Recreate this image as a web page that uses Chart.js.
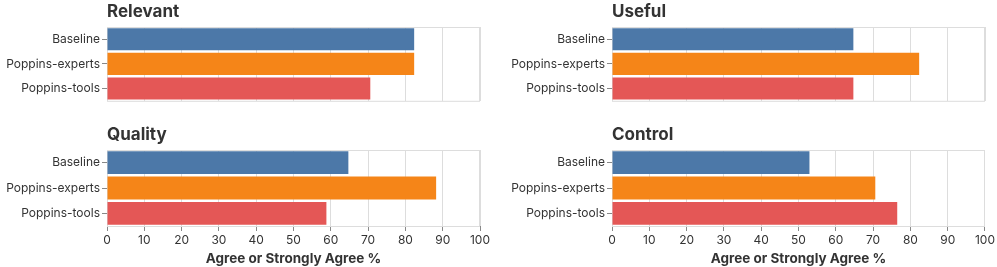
<!DOCTYPE html>
<html>
<head>
<meta charset="utf-8">
<script src="https://cdn.jsdelivr.net/npm/chart.js@4"></script>
<style>
  body { margin: 0; background: #fff; }
  .panel { position: absolute; }
</style>
</head>
<body>
<div class="panel" style="left:0;top:0;width:495px;height:110px"><canvas id="relevant"></canvas></div>
<div class="panel" style="left:505px;top:0;width:492px;height:110px"><canvas id="useful"></canvas></div>
<div class="panel" style="left:0;top:123px;width:495px;height:144px"><canvas id="quality"></canvas></div>
<div class="panel" style="left:505px;top:123px;width:492px;height:144px"><canvas id="control"></canvas></div>
<script>
// conditions (y categories)
const conditions = ['Baseline', 'Poppins-experts', 'Poppins-tools'];
const barColors = ['#4c78a8', '#f58518', '#e45756'];

// percent agree / strongly agree, per question
const relevantValues = [82.35, 82.35, 70.59];
const usefulValues = [64.71, 82.35, 64.71];
const qualityValues = [64.71, 88.24, 58.82];
const controlValues = [52.94, 70.59, 76.47];

const xTicks = [0, 10, 20, 30, 40, 50, 60, 70, 80, 90, 100];
const xTitle = 'Agree or Strongly Agree %';

const fontFamily = 'Inter, "Noto Sans", sans-serif';

// frame + panel title, drawn at the plot's left edge
const framePlugin = {
    id: 'frame',
    beforeDatasetsDraw(chart) {
        const a = chart.chartArea;
        const ctx = chart.ctx;
        ctx.save();
        ctx.strokeStyle = '#dddddd';
        ctx.lineWidth = 1;
        ctx.strokeRect(a.left + 0.5, a.top + 0.5, a.right - a.left - 1, a.bottom - a.top);
        ctx.restore();
    },
    afterDraw(chart, args, opts) {
        const a = chart.chartArea;
        const ctx = chart.ctx;
        ctx.save();
        ctx.fillStyle = '#333';
        ctx.font = 'bold 17px ' + fontFamily;
        ctx.textBaseline = 'middle';
        ctx.fillText(opts.text, a.left, a.top - 15);
        ctx.restore();
    }
};

function makePanel(id, title, values, rightPad, showAxis) {
    new Chart(document.getElementById(id), {
        type: 'bar',
        data: {
            labels: conditions,
            datasets: [{
                data: values,
                backgroundColor: barColors,
                borderWidth: 0,
                categoryPercentage: 1,
                barPercentage: 0.9
            }]
        },
        options: {
            indexAxis: 'y',
            responsive: true,
            maintainAspectRatio: false,
            animation: false,
            layout: { padding: { top: 27, right: rightPad, bottom: showAxis ? 0 : 8, left: 0 } },
            scales: {
                x: {
                    min: 0,
                    max: 100,
                    afterBuildTicks(scale) { scale.ticks = xTicks.map(v => ({ value: v })); },
                    afterFit(scale) { scale.height = showAxis ? 41 : 0; },
                    grid: {
                        color: '#dddddd',
                        drawTicks: showAxis,
                        tickLength: 5,
                        tickColor: '#888'
                    },
                    border: { display: showAxis, color: '#888' },
                    ticks: {
                        display: showAxis,
                        color: '#333',
                        padding: 2,
                        maxRotation: 0,
                        font: { family: fontFamily, size: 12 }
                    },
                    title: {
                        display: showAxis,
                        text: xTitle,
                        color: '#333',
                        padding: { top: 2, bottom: 0 },
                        font: { family: fontFamily, size: 13.5, weight: 'bold' }
                    }
                },
                y: {
                    afterFit(scale) { scale.width = 107; },
                    grid: {
                        offset: false,
                        drawOnChartArea: false,
                        drawTicks: true,
                        tickLength: 5,
                        tickColor: '#888'
                    },
                    border: { color: '#888' },
                    ticks: {
                        color: '#333',
                        padding: 2,
                        font: { family: fontFamily, size: 12 }
                    }
                }
            },
            plugins: {
                legend: { display: false },
                tooltip: { enabled: false },
                frame: { text: title }
            }
        },
        plugins: [framePlugin]
    });
}

makePanel('relevant', 'Relevant', relevantValues, 15, false);
makePanel('useful', 'Useful', usefulValues, 12, false);
makePanel('quality', 'Quality', qualityValues, 15, true);
makePanel('control', 'Control', controlValues, 12, true);
</script>
</body>
</html>
